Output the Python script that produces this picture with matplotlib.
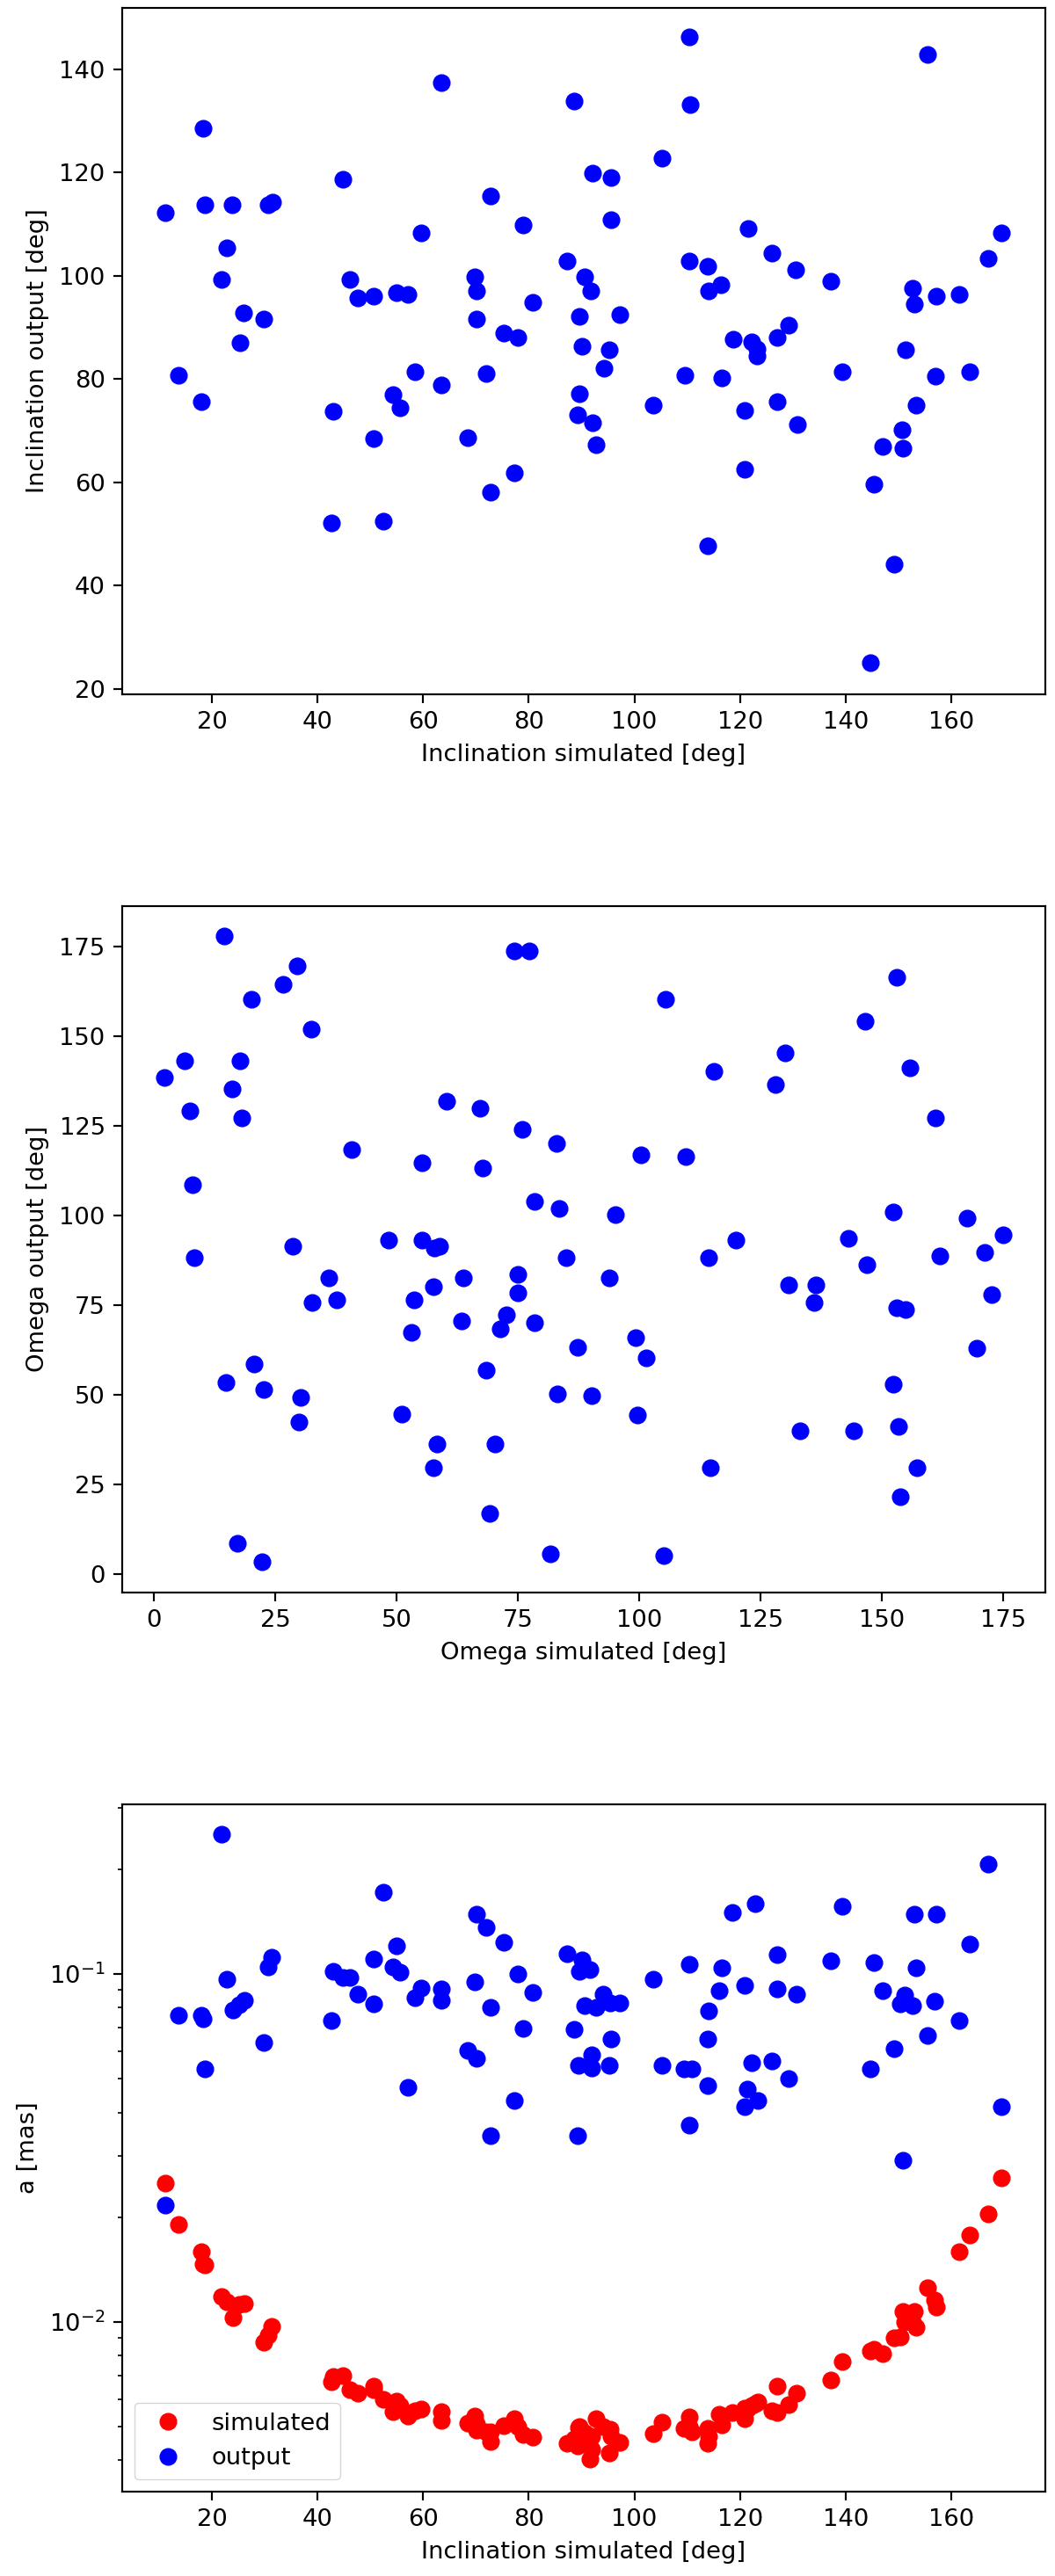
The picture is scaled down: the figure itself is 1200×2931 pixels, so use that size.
import matplotlib
matplotlib.use("Agg")
import matplotlib.pyplot as plt

# Panel 1: inclination simulated vs inclination output [deg]
inc_sim = [63.5, 18.4, 44.8, 11.2, 18.6, 23.9, 30.7, 31.5, 72.7, 59.6, 79.0, 22.9, 21.8, 46.2, 47.6, 50.7,
           55.0, 57.2, 69.8, 70.1, 70.1, 80.8, 87.2, 26.0, 29.9, 25.4, 75.3, 78.0, 13.7, 58.5, 63.4, 72.0,
           18.0, 43.0, 54.3, 55.7, 50.7, 68.4, 77.2, 72.7, 42.7, 52.5,
           110.3, 155.5, 88.5, 110.6, 105.3, 92.0, 95.5, 95.5, 121.5, 169.5, 126.1, 167.0, 110.3, 113.8,
           130.6, 90.6, 91.7, 137.2, 116.3, 114.1, 152.7, 153.0, 157.2, 161.4, 89.6, 97.3, 90.0, 95.2,
           94.2, 118.7, 122.2, 123.2, 123.2, 127.0, 129.2, 151.3, 109.6, 116.5, 139.4, 156.9, 163.5,
           89.6, 89.2, 92.1, 92.8, 103.6, 120.8, 127.1, 130.9, 120.8, 153.3, 150.6, 147.0, 150.9, 145.3,
           113.8, 149.2, 144.6]
inc_out = [137.4, 128.5, 118.7, 112.3, 113.7, 113.7, 113.7, 114.2, 115.5, 108.3, 109.8, 105.4, 99.3, 99.3,
           95.7, 96.0, 96.7, 96.4, 99.8, 97.1, 91.7, 94.9, 102.9, 92.9, 91.7, 87.1, 88.9, 88.1, 80.7, 81.4,
           78.9, 81.1,
           75.6, 73.7, 77.0, 74.5, 68.5, 68.7, 61.9, 58.2, 52.1, 52.5,
           146.2, 142.9, 133.9, 133.2, 122.7, 119.8, 119.1, 110.9, 109.1, 108.3, 104.4, 103.3, 102.9, 101.8,
           101.1, 99.8, 97.1, 98.9, 98.3, 97.0, 97.6, 94.6, 96.0, 96.4, 92.1, 92.5, 86.3, 85.6, 82.1, 87.7,
           87.2, 85.9, 84.5, 88.1, 90.4, 85.6, 80.8, 80.2, 81.5, 80.6, 81.5,
           77.1, 73.1, 71.6, 67.3, 74.9, 73.9, 75.6, 71.3, 62.6, 74.9, 70.2, 66.9, 66.6, 59.6, 47.8, 44.2,
           25.1]

# Panel 2: omega simulated vs omega output [deg]
om_sim = [14.5, 74.3, 77.4, 29.5, 26.5, 20.0, 32.3, 6.3, 17.7, 2.2, 16.1, 7.3, 18.1, 60.3, 67.2, 75.8,
          82.9, 40.8, 55.3, 67.7, 8.0, 78.5, 83.4, 28.5, 48.4, 55.3, 57.7, 58.8, 8.3,
          36.1, 32.6, 37.6, 53.5, 57.6, 63.8, 75.0, 75.0, 72.7, 71.4, 63.4, 78.4, 53.0, 85.0, 20.6, 14.9,
          22.6, 30.3, 29.9, 51.1, 68.5, 83.1, 58.3, 70.3, 57.6, 69.2, 17.1, 22.3, 81.6,
          153.1, 105.4, 146.5, 130.0, 115.3, 128.1, 155.8, 161.1, 100.4, 109.6, 95.0, 152.3, 167.6, 175.0,
          143.1, 119.9,
          114.2, 161.9, 171.1, 146.9, 93.8, 130.8, 136.4, 136.1, 153.1, 154.8, 172.6, 87.3, 99.2, 101.5,
          169.6, 90.1, 99.6, 152.3, 133.1, 144.2, 153.4, 114.6, 157.2, 153.8, 105.0]
om_out = [178.0, 173.9, 173.9, 169.7, 164.6, 160.3, 152.1, 143.2, 143.2, 138.6, 135.5, 129.3, 127.2, 131.9,
          129.9, 124.1, 120.1, 118.5, 114.8, 113.2, 108.6, 104.0, 102.0, 91.6, 93.1, 93.1, 91.1, 91.6, 88.4,
          82.6, 75.9, 76.4, 76.4, 80.1, 82.6, 83.7, 78.4, 72.4, 68.4, 70.7, 70.2, 67.5, 88.4, 58.6, 53.5,
          51.5, 49.3, 42.5, 44.7, 57.0, 50.4, 36.3, 36.3, 29.6, 17.0, 8.6, 3.5, 5.6,
          166.6, 160.4, 154.2, 145.4, 140.2, 136.6, 141.3, 127.3, 116.9, 116.5, 100.4, 101.0, 99.3, 94.7,
          93.6, 93.2,
          88.4, 88.9, 89.8, 86.3, 82.6, 80.6, 80.6, 75.8, 74.4, 73.9, 78.0, 63.4, 66.0, 60.3, 63.0, 49.8,
          44.3, 53.0, 40.0, 40.0, 41.1, 29.6, 29.6, 21.7, 5.2]

# Panel 3: inclination simulated vs semi-major axis a [mas]
a_inc = [11.2, 13.7, 18.0, 18.3, 18.6, 21.9, 22.9, 24.0, 25.1, 26.1,
         29.9, 30.6, 31.4, 42.6, 43.0, 44.8, 46.2, 47.6, 50.7, 50.7,
         52.5, 54.3, 54.9, 55.7, 57.1, 58.4, 59.6, 63.5, 63.5, 68.4,
         69.8, 70.1, 70.1, 71.9, 72.7, 72.7, 75.2, 77.2, 77.9, 79.0,
         80.8, 87.2, 88.5, 89.2, 89.4, 89.5, 90.0, 90.6, 91.6, 91.9,
         91.9, 92.8, 94.1, 95.2, 95.4, 95.5, 97.3, 103.6, 105.3, 109.3,
         110.3, 110.3, 110.9, 113.8, 113.8, 114.1, 116.1, 116.5, 118.6, 120.8,
         120.8, 121.4, 122.2, 122.8, 123.3, 126.1, 127.0, 127.0, 129.2, 130.7,
         137.2, 139.3, 144.6, 145.3, 147.0, 149.2, 150.4, 150.9, 151.2, 152.7,
         153.0, 153.3, 155.5, 156.8, 157.2, 161.5, 163.5, 167.0, 169.5]
a_out = [0.0216, 0.0762, 0.0762, 0.0745, 0.0533, 0.252, 0.0966, 0.079, 0.0815, 0.0839,
         0.0635, 0.1046, 0.112, 0.0735, 0.1016, 0.0977, 0.0977, 0.0873, 0.1104, 0.082,
         0.172, 0.105, 0.1205, 0.101, 0.0472, 0.0853, 0.091, 0.0906, 0.0839, 0.0604,
         0.0949, 0.149, 0.0573, 0.136, 0.0802, 0.0343, 0.123, 0.0433, 0.100, 0.0699,
         0.0883, 0.1146, 0.0693, 0.0343, 0.0546, 0.1016, 0.110, 0.0813, 0.103, 0.0585,
         0.0537, 0.0802, 0.0873, 0.0546, 0.0824, 0.065, 0.0824, 0.0964, 0.0546, 0.0534,
         0.1066, 0.0368, 0.0534, 0.065, 0.0477, 0.0782, 0.0895, 0.104, 0.1507, 0.0927,
         0.0416, 0.0466, 0.0555, 0.1595, 0.0433, 0.0561, 0.1135, 0.0908, 0.050, 0.0873,
         0.109, 0.1563, 0.0534, 0.108, 0.0895, 0.061, 0.082, 0.0292, 0.0869, 0.0813,
         0.1487, 0.104, 0.0665, 0.0833, 0.1487, 0.0735, 0.1219, 0.2075, 0.0416]
a_sim = [0.0251, 0.0191, 0.0159, 0.0147, 0.0146, 0.0118, 0.0114, 0.0103, 0.0112, 0.0113,
         0.00873, 0.00916, 0.0097, 0.00671, 0.00698, 0.00701, 0.0064, 0.00622, 0.00653, 0.0064,
         0.0060, 0.00553, 0.00593, 0.00575, 0.00537, 0.00556, 0.00562, 0.00553, 0.00522, 0.00512,
         0.00537, 0.00488, 0.0051, 0.00483, 0.00483, 0.00452, 0.00502, 0.00527, 0.0050, 0.00474,
         0.00465, 0.00447, 0.0046, 0.0044, 0.00498, 0.0050, 0.00465, 0.0048, 0.00402, 0.0047,
         0.0043, 0.00527, 0.0050, 0.0042, 0.0049, 0.0047, 0.0045, 0.00476, 0.00514, 0.00493,
         0.00532, 0.0050, 0.00483, 0.00493, 0.00447, 0.0047, 0.00543, 0.00505, 0.00548, 0.00564,
         0.00527, 0.0056, 0.00575, 0.0058, 0.00589, 0.00556, 0.00548, 0.00653, 0.00578, 0.00622,
         0.00679, 0.00769, 0.00824, 0.00832, 0.00808, 0.00902, 0.00907, 0.0107, 0.0100, 0.0100,
         0.01073, 0.00962, 0.01256, 0.01156, 0.01102, 0.0159, 0.0178, 0.0204, 0.026]

# everything scaled up ~1.97x from matplotlib defaults
plt.rcParams.update({
    "font.size": 19.7,
    "axes.linewidth": 1.55,
    "xtick.major.size": 6.9, "ytick.major.size": 6.9,
    "xtick.major.width": 1.55, "ytick.major.width": 1.55,
    "xtick.minor.size": 3.9, "ytick.minor.size": 3.9,
    "xtick.minor.width": 1.2, "ytick.minor.width": 1.2,
    "xtick.major.pad": 6.9, "ytick.major.pad": 6.9,
    "axes.labelpad": 7.9,
})

fig = plt.figure(figsize=(12, 29.31), dpi=100)
ms = 13.5

ax1 = fig.add_axes([0.1157, 0.7305, 0.8752, 0.2665])
ax1.plot(inc_sim, inc_out, "o", color="blue", markersize=ms)
ax1.set_xlabel("Inclination simulated [deg]")
ax1.set_ylabel("Inclination output [deg]")
ax1.set_xlim(3.0, 177.8)
ax1.set_ylim(19.0, 151.9)

ax2 = fig.add_axes([0.1157, 0.3817, 0.8752, 0.2667])
ax2.plot(om_sim, om_out, "o", color="blue", markersize=ms)
ax2.set_xlabel("Omega simulated [deg]")
ax2.set_ylabel("Omega output [deg]")
ax2.set_xlim(-6.6, 183.7)
ax2.set_ylim(-5.2, 186.5)

ax3 = fig.add_axes([0.1157, 0.03275, 0.8752, 0.2669])
ax3.plot(a_inc, a_sim, "o", color="red", markersize=ms, label="simulated")
ax3.plot(a_inc, a_out, "o", color="blue", markersize=ms, label="output")
ax3.set_yscale("log")
ax3.set_xlabel("Inclination simulated [deg]")
ax3.set_ylabel("a [mas]")
ax3.set_xlim(3.0, 177.8)
ax3.set_ylim(0.00325, 0.308)
ax3.legend(loc="lower left")

fig.savefig("out.png", dpi=100)
